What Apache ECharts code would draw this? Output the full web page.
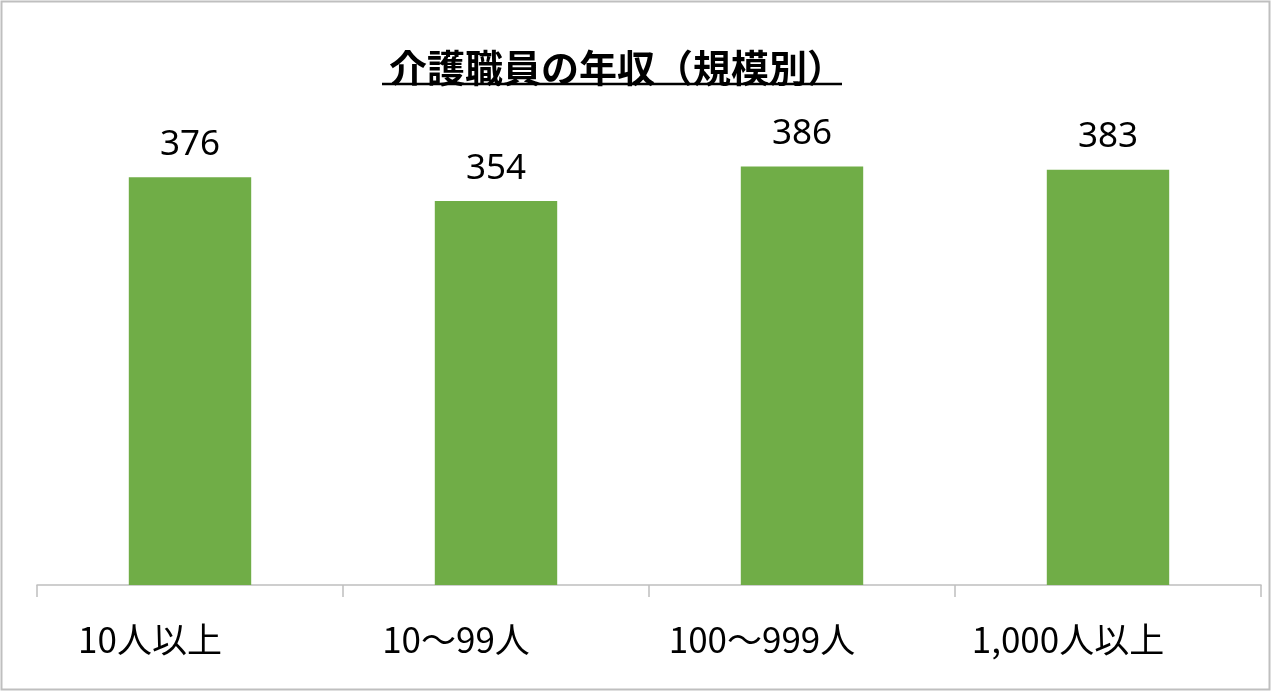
<!DOCTYPE html>
<html>
<head>
<meta charset="utf-8">
<script src="https://cdn.jsdelivr.net/npm/echarts@6/dist/echarts.min.js"></script>
<style>
html,body{margin:0;padding:0;background:#fff;}
#chart{width:1272px;height:691px;}
</style>
</head>
<body>
<div id="chart"></div>
<script>
const titleText = '介護職員の年収（規模別）';
const categories = ['10人以上', '10～99人', '100～999人', '1,000人以上'];
const salaries = [376, 354, 386, 383];
const yMin = 0;
const yMax = 450;

const chart = echarts.init(document.getElementById('chart'));
chart.setOption({
  backgroundColor: '#ffffff',
  animation: false,
  title: {
    text: titleText,
    left: 612,
    textAlign: 'center',
    top: 44,
    textStyle: {
      fontFamily: '"Noto Sans CJK JP", sans-serif',
      fontSize: 38,
      fontWeight: 'bold',
      color: '#000'
    }
  },
  graphic: [
    {
      type: 'rect',
      shape: { x: 1.5, y: 1.5, width: 1268, height: 688 },
      style: { fill: null, stroke: '#bfbfbf', lineWidth: 2 },
      silent: true
    },
    {
      type: 'line',
      shape: { x1: 382, y1: 84, x2: 842, y2: 84 },
      style: { stroke: '#000', lineWidth: 2.5 },
      silent: true
    }
  ],
  grid: {
    left: 37,
    right: 11,
    top: 97,
    bottom: 106,
    containLabel: false
  },
  xAxis: {
    type: 'category',
    data: categories,
    axisLine: { lineStyle: { color: '#bfbfbf', width: 1.5 } },
    axisTick: { show: true, length: 12, lineStyle: { color: '#bfbfbf', width: 1.5 } },
    axisLabel: {
      margin: 37,
      padding: [0, 80, 0, 0],
      fontFamily: '"Noto Sans CJK JP", "Noto Sans", sans-serif',
      fontSize: 35,
      color: '#000'
    }
  },
  yAxis: {
    type: 'value',
    min: yMin,
    max: yMax,
    show: false,
    splitLine: { show: false }
  },
  series: [{
    type: 'bar',
    data: salaries,
    barWidth: '40%',
    itemStyle: { color: '#70AD47' },
    label: {
      show: true,
      position: 'top',
      distance: 15,
      fontFamily: '"Noto Sans", sans-serif',
      fontSize: 35,
      color: '#000'
    }
  }]
});
</script>
</body>
</html>
